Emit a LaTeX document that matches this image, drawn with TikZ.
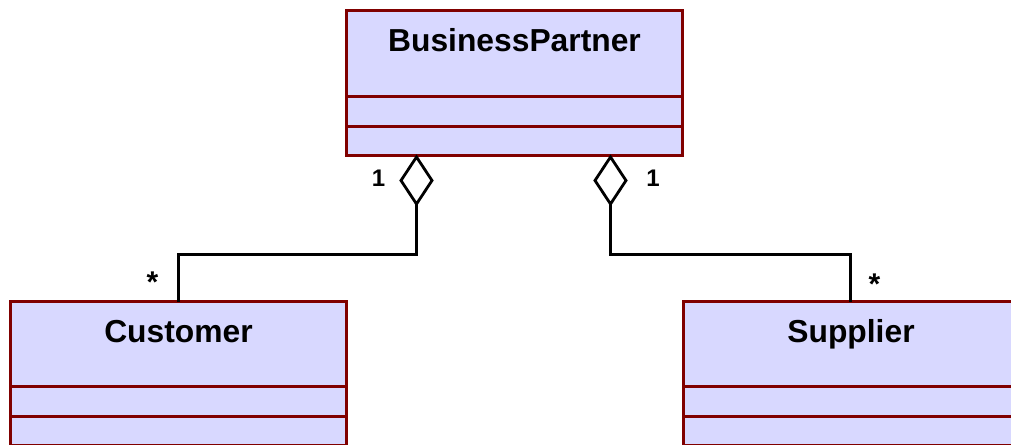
\documentclass[tikz,border=0pt]{standalone}
\usepackage{fontspec}
\setmainfont{Liberation Sans}
\usetikzlibrary{shapes.geometric,calc}
\definecolor{boxfill}{HTML}{D8D8FF}
\definecolor{boxline}{HTML}{800000}
\begin{document}
\begin{tikzpicture}[x=1pt,y=-1pt,
  classbox/.style={draw=boxline,fill=boxfill,line width=3pt,minimum width=336pt,minimum height=144pt,inner sep=0pt,outer sep=0pt,anchor=north west},
  sepline/.style={draw=boxline,line width=3pt},
  title/.style={font=\fontsize{31.8}{36}\selectfont\bfseries,inner sep=0pt,anchor=base},
  agg/.style={draw=black,fill=white,line width=2.8pt,diamond,minimum width=31pt,minimum height=47pt,inner sep=0pt,outer sep=0pt},
  conn/.style={line width=3pt},
  mult/.style={font=\fontsize{24}{28}\selectfont\bfseries,inner sep=0pt,anchor=base}]
\useasboundingbox (0,0) rectangle (1011,444);
\clip (0,0) rectangle (1011,444);
% class boxes
\node[classbox] (bp) at (346.5,11) {};
\node[classbox] (cust) at (10.5,301.5) {};
\node[classbox] (supp) at (683,301.5) {};
% compartment separators
\foreach \b in {bp,cust,supp}{
  \draw[sepline] ($(\b.north west)+(0,85)$) -- ($(\b.north east)+(0,85)$);
  \draw[sepline] ($(\b.north west)+(0,115)$) -- ($(\b.north east)+(0,115)$);
}
% titles
\node[title] (bpt) at ($(bp.north)+(0,41)$) {BusinessPartner};
\node[title] (custt) at ($(cust.north)+(0,40.5)$) {Customer};
\node[title] (suppt) at ($(supp.north)+(0,40.5)$) {Supplier};
% aggregation diamonds
\node[agg] (dl) at (416.5,180.5) {};
\node[agg] (dr) at (610.5,180.5) {};
% connectors
\coordinate (cl) at (178.5,254);
\coordinate (cr) at (850.5,254);
\draw[conn] (dl.south) |- (cl) -- (cl |- cust.north);
\draw[conn] (dr.south) |- (cr) -- (cr |- supp.north);
% multiplicities
\node[mult] (m1) at (378.5,186.5) {1};
\node[mult] (m2) at (653,186.5) {1};
\node[mult,font=\fontsize{30}{34}\selectfont\bfseries] (m3) at (152.5,292) {*};
\node[mult,font=\fontsize{30}{34}\selectfont\bfseries] (m4) at (874.5,294) {*};
\end{tikzpicture}
\end{document}
